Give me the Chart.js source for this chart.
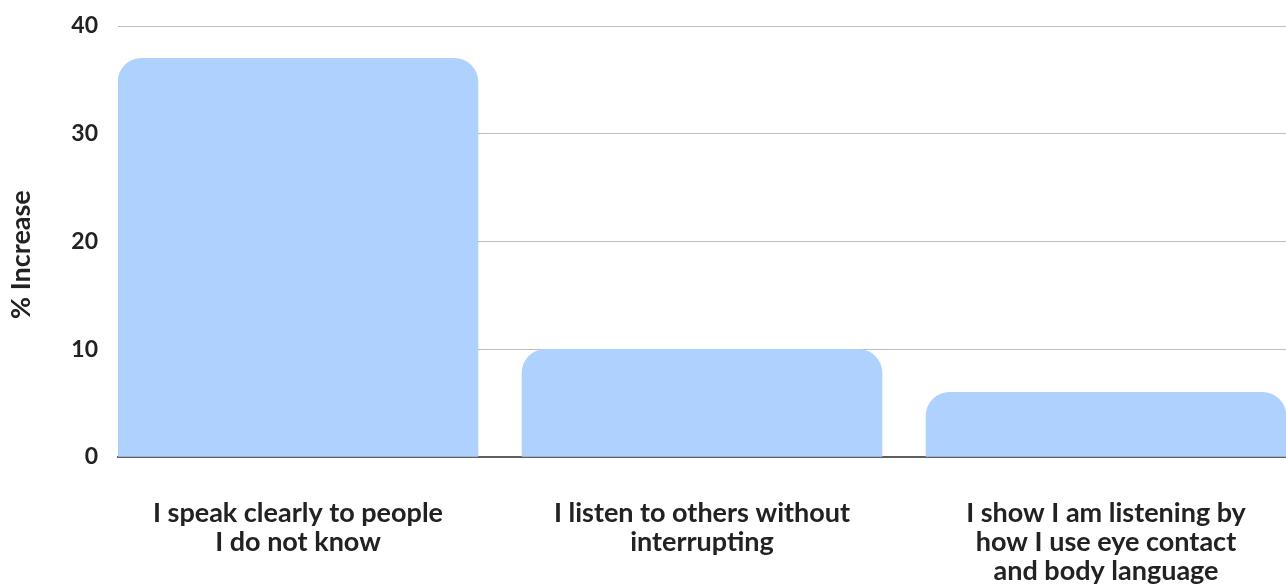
<!DOCTYPE html>
<html>
<head>
<meta charset="utf-8">
<script src="https://cdn.jsdelivr.net/npm/chart.js@4.4.1/dist/chart.umd.min.js"></script>
<style>
  html, body { margin: 0; padding: 0; background: #fff; }
  #wrap { width: 1286px; height: 587px; }
</style>
</head>
<body>
<div id="wrap"><canvas id="chart"></canvas></div>
<script>
// data
const categories = [
  ['I speak clearly to people', 'I do not know'],
  ['I listen to others without', 'interrupting'],
  ['I show I am listening by', 'how I use eye contact', 'and body language']
];
const increase = [37, 10, 6];
const yTicks = [0, 10, 20, 30, 40];

const ctx = document.getElementById('chart');
const FONT = 'Lato, "Open Sans", sans-serif';

new Chart(ctx, {
  type: 'bar',
  data: {
    datasets: [{
      label: '% Increase',
      data: increase.map((v, i) => ({ x: i, y: v })),
      backgroundColor: '#aed1fd',
      borderRadius: { topLeft: 24, topRight: 24 },
      borderSkipped: 'bottom',
      barThickness: 360
    }]
  },
  options: {
    responsive: true,
    maintainAspectRatio: false,
    animation: false,
    layout: { padding: { top: 26, right: 0, left: 0, bottom: 0 } },
    plugins: {
      legend: { display: false },
      tooltip: { enabled: false }
    },
    scales: {
      x: {
        type: 'linear',
        offset: false,
        min: -0.4455,
        max: 2.4455,
        afterBuildTicks: (scale) => {
          scale.ticks = categories.map((c, i) => ({ value: i }));
        },
        afterFit: (scale) => {
          scale.height = 130;
          scale.paddingLeft = 0;
          scale.paddingRight = 0;
        },
        grid: { display: false, drawTicks: false },
        border: { display: true, color: '#5f5f5f', width: 2 },
        ticks: {
          autoSkip: false,
          maxRotation: 0,
          padding: 42,
          color: '#222',
          font: { family: FONT, size: 27, weight: 'bold', lineHeight: 1.07 },
          callback: (v) => categories[v]
        }
      },
      y: {
        min: 0,
        max: 40,
        afterBuildTicks: (scale) => {
          scale.ticks = yTicks.map(v => ({ value: v }));
        },
        afterFit: (scale) => {
          scale.width = 118;
          scale.paddingTop = 0;
          scale.paddingBottom = 0;
        },
        grid: { color: '#bdbdbd', lineWidth: 1, drawTicks: false },
        border: { display: false },
        ticks: {
          padding: 20,
          color: '#222',
          font: { family: FONT, size: 23, weight: 'bold' }
        },
        title: {
          display: true,
          // trailing spaces nudge the centred title down like the original
          text: '% Increase    ',
          color: '#222',
          padding: { top: 5, bottom: 0 },
          font: { family: FONT, size: 27, weight: 'bold' }
        }
      }
    }
  }
});
</script>
</body>
</html>
